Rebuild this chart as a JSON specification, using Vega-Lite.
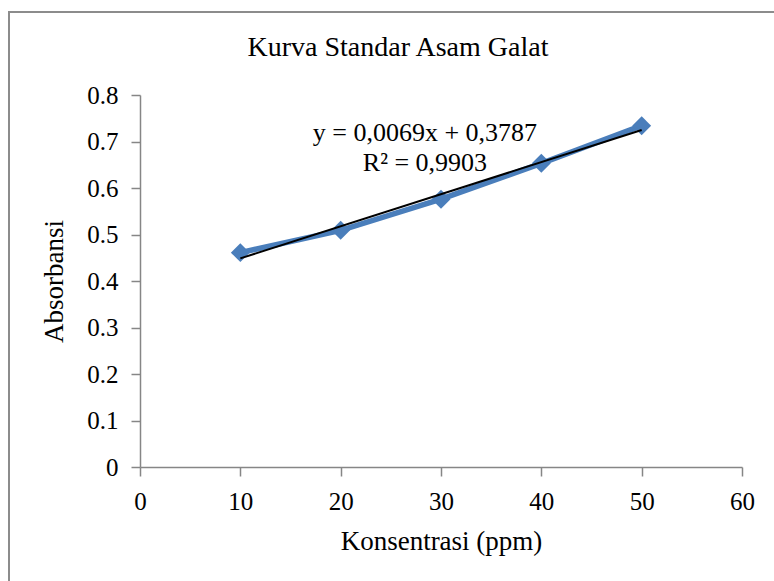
{
  "$schema": "https://vega.github.io/schema/vega-lite/v6.json",
  "autosize": "none",
  "width": 602,
  "height": 372,
  "padding": {"left": 140, "top": 95, "right": 32, "bottom": 114},
  "background": "white",
  "title": {
    "text": "Kurva Standar Asam Galat",
    "font": "Liberation Serif",
    "fontSize": 28,
    "fontWeight": "normal",
    "color": "black",
    "anchor": "middle",
    "baseline": "alphabetic",
    "offset": -73,
    "dx": -43
  },
  "data": {
    "values": [
      {"konsentrasi": 10, "absorbansi": 0.461},
      {"konsentrasi": 20, "absorbansi": 0.509},
      {"konsentrasi": 30, "absorbansi": 0.576},
      {"konsentrasi": 40, "absorbansi": 0.653},
      {"konsentrasi": 50, "absorbansi": 0.734}
    ]
  },
  "config": {
    "view": {"stroke": null},
    "axis": {
      "grid": false,
      "domainColor": "#868686",
      "domainWidth": 1.5,
      "tickColor": "#868686",
      "tickWidth": 1.5,
      "tickSize": 9,
      "labelFont": "Liberation Serif",
      "labelFontSize": 25,
      "labelColor": "black",
      "labelPadding": 13,
      "labelFlush": false,
      "titleFont": "Liberation Serif",
      "titleFontSize": 27,
      "titleFontWeight": "normal",
      "titleColor": "black"
    }
  },
  "layer": [
    {
      "data": {"values": [{}]},
      "mark": {"type": "rect", "fill": null, "stroke": "#8c8c8c", "strokeWidth": 2},
      "encoding": {
        "x": {"value": -131},
        "x2": {"value": 700},
        "y": {"value": -83},
        "y2": {"value": 600}
      }
    },
    {
      "mark": {
        "type": "line",
        "color": "#4A7EBB",
        "strokeWidth": 5.5,
        "point": {"shape": "diamond", "size": 360, "filled": true, "color": "#4A7EBB", "opacity": 1}
      },
      "encoding": {
        "x": {
          "field": "konsentrasi",
          "type": "quantitative",
          "scale": {"domain": [0, 60], "nice": false, "zero": true},
          "axis": {
            "title": "Konsentrasi (ppm)",
            "values": [0, 10, 20, 30, 40, 50, 60],
            "format": "d",
            "titleBaseline": "alphabetic",
            "titleY": 82
          }
        },
        "y": {
          "field": "absorbansi",
          "type": "quantitative",
          "scale": {"domain": [0, 0.8], "nice": false},
          "axis": {
            "title": "Absorbansi",
            "values": [0, 0.1, 0.2, 0.3, 0.4, 0.5, 0.6, 0.7, 0.8],
            "format": ".1~f",
            "titleAngle": -90,
            "titleBaseline": "alphabetic",
            "titleAlign": "center",
            "titleX": -78,
            "titleY": 186
          }
        }
      }
    },
    {
      "transform": [
        {"regression": "absorbansi", "on": "konsentrasi", "extent": [10, 50]}
      ],
      "mark": {"type": "line", "color": "black", "strokeWidth": 2},
      "encoding": {
        "x": {"field": "konsentrasi", "type": "quantitative"},
        "y": {"field": "absorbansi", "type": "quantitative"}
      }
    },
    {
      "data": {"values": [{"label": "y = 0,0069x + 0,3787\nR² = 0,9903"}]},
      "mark": {
        "type": "text",
        "font": "Liberation Serif",
        "fontSize": 26,
        "align": "center",
        "baseline": "alphabetic",
        "lineBreak": "\n",
        "lineHeight": 30,
        "color": "black"
      },
      "encoding": {
        "x": {"datum": 28.4},
        "y": {"datum": 0.7015},
        "text": {"field": "label"}
      }
    }
  ]
}
